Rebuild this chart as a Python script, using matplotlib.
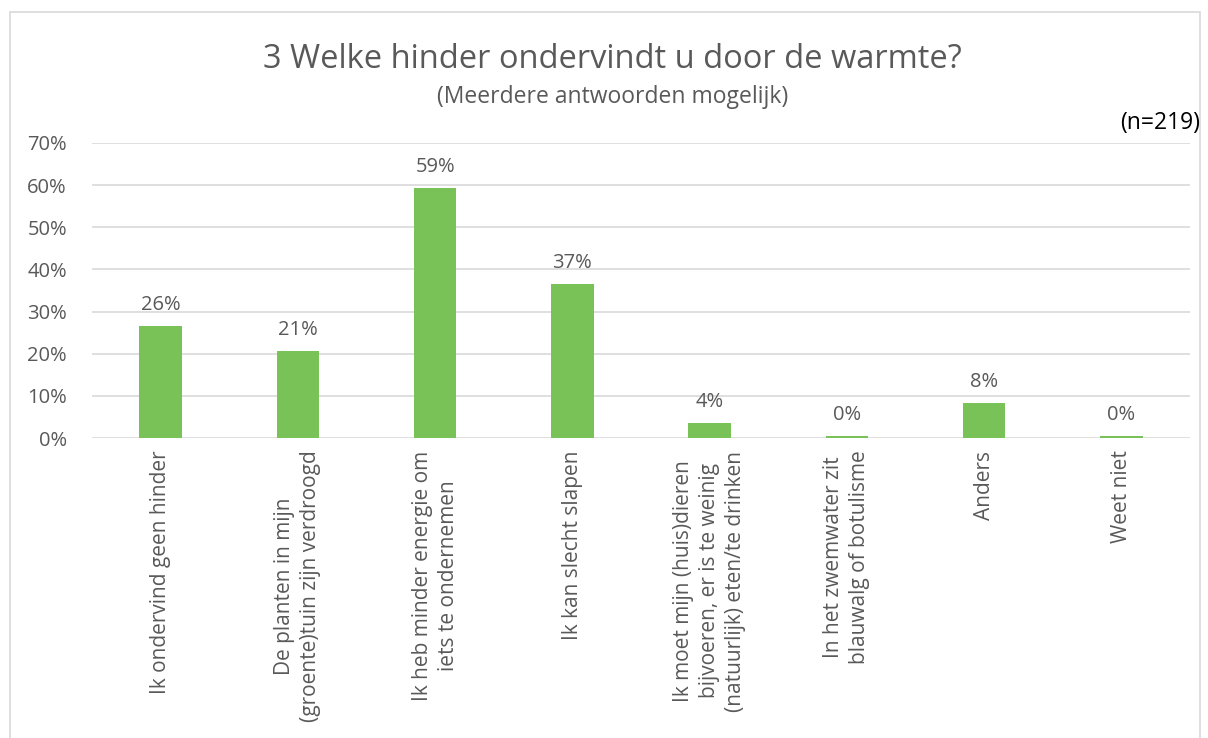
import numpy as np
import matplotlib.pyplot as plt
from matplotlib.patches import Rectangle

categories = [
    "Ik ondervind geen hinder",
    "De planten in mijn\n(groente)tuin zijn verdroogd",
    "Ik heb minder energie om\niets te ondernemen",
    "Ik kan slecht slapen",
    "Ik moet mijn (huis)dieren\nbijvoeren, er is te weinig\n(natuurlijk) eten/te drinken",
    "In het zwemwater zit\nblauwalg of botulisme",
    "Anders",
    "Weet niet",
]
values = [26.5, 20.55, 59.4, 36.53, 3.65, 0.46, 8.2, 0.46]
yticks = [0, 10, 20, 30, 40, 50, 60, 70]

plt.rcParams['font.family'] = ['Open Sans', 'DejaVu Sans']
txt = '#595959'

fig = plt.figure(figsize=(12.08, 7.38), dpi=100)
# chart border
fig.patches.append(Rectangle((10/1208, -0.1), 1190/1208, 1.1 - 12/738, transform=fig.transFigure,
                             fill=False, edgecolor='#D9D9D9', linewidth=1.2))

ax = fig.add_axes([92/1208, 1-438/738, 1098/1208, 295/738])
x = np.arange(len(categories))
ax.bar(x, values, width=0.31, color='#78C257', zorder=3)
for xi, v in zip(x, values):
    ax.text(xi, v + 2.6, f"{v:.0f}%", ha='center', va='bottom', fontsize=14.5, color=txt)

ax.set_xlim(-0.5, len(categories) - 0.5)
ax.set_ylim(0, 70)
ax.set_yticks(yticks)
ax.set_yticklabels([f"{t}%" for t in yticks], fontsize=14.5, color=txt)
ax.yaxis.grid(True, color='#D9D9D9', linewidth=1.2, zorder=0)
ax.set_xticks(x)
ax.set_xticklabels(categories, rotation=90, fontsize=15, color=txt, va='top', ha='center',
                   multialignment='center', linespacing=1.3)
ax.tick_params(axis='both', length=0)
ax.tick_params(axis='x', pad=9)
ax.tick_params(axis='y', pad=18)
for s in ax.spines.values():
    s.set_visible(False)

fig.text(0.507, 1-60/738, "3 Welke hinder ondervindt u door de warmte?", ha='center', va='center',
         fontsize=23.5, color=txt)
fig.text(0.507, 1-97/738, "(Meerdere antwoorden mogelijk)", ha='center', va='center',
         fontsize=16.5, color=txt)
fig.text(1200/1208, 1-123/738, "(n=219)", ha='right', va='center', fontsize=16.5, color='black')

fig.savefig('out.png', dpi=100)
